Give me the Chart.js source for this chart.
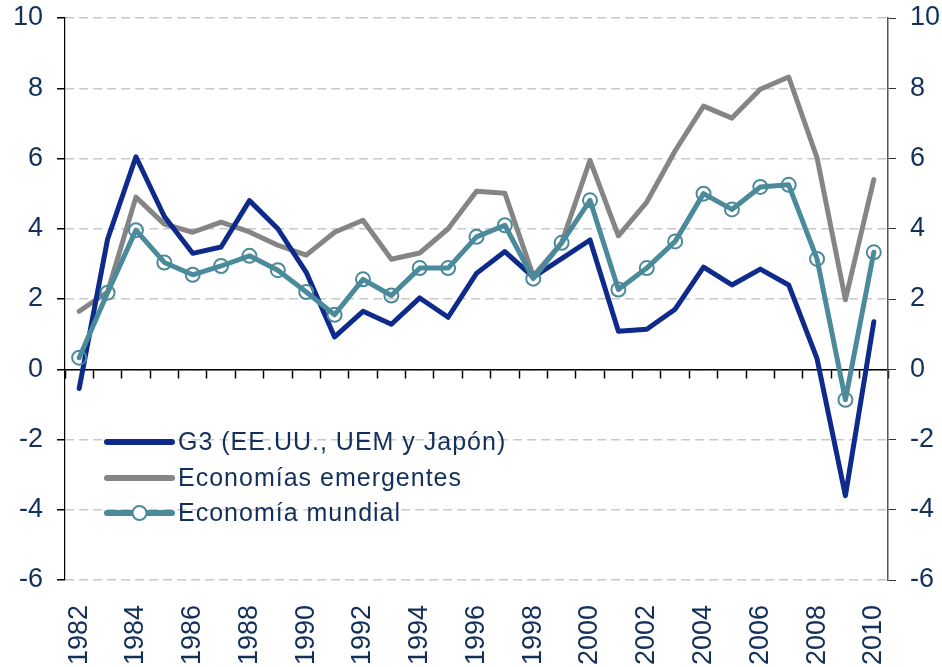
<!DOCTYPE html>
<html>
<head>
<meta charset="utf-8">
<script src="https://cdn.jsdelivr.net/npm/chart.js@4.4.1/dist/chart.umd.min.js"></script>
<style>
    html, body { margin: 0; padding: 0; background: #ffffff; }
    #wrap { width: 942px; height: 667px; position: relative; }
</style>
</head>
<body>
<div id="wrap"><canvas id="chart" width="942" height="667"></canvas></div>
<script>
// Years on the x axis
const years = ['1982', '1983', '1984', '1985', '1986', '1987', '1988', '1989', '1990',
    '1991', '1992', '1993', '1994', '1995', '1996', '1997', '1998', '1999', '2000',
    '2001', '2002', '2003', '2004', '2005', '2006', '2007', '2008', '2009', '2010'];

// G3 (EE.UU., UEM y Japón)
const g3 = [-0.55, 3.7, 6.05, 4.35, 3.3, 3.48, 4.8, 4.0, 2.76,
    0.92, 1.65, 1.28, 2.03, 1.48, 2.73, 3.35, 2.62, 3.15, 3.68,
    1.08, 1.14, 1.71, 2.91, 2.4, 2.85, 2.4, 0.3, -3.6, 1.35];

// Economías emergentes
const emergentes = [1.65, 2.2, 4.9, 4.13, 3.9, 4.19, 3.91, 3.53, 3.25,
    3.9, 4.24, 3.13, 3.31, 4.0, 5.07, 5.01, 2.65, 3.6, 5.95,
    3.8, 4.76, 6.22, 7.49, 7.15, 7.97, 8.32, 6.02, 1.98, 5.4];

// Economía mundial
const mundial = [0.33, 2.18, 3.96, 3.04, 2.69, 2.94, 3.23, 2.82, 2.2,
    1.55, 2.56, 2.1, 2.88, 2.88, 3.77, 4.1, 2.58, 3.6, 4.81,
    2.27, 2.88, 3.64, 5.0, 4.55, 5.19, 5.25, 3.14, -0.87, 3.33];

const yTicks = { min: -6, max: 10, step: 2 };

const colors = {
    g3: '#0e2a8a',
    emergentes: '#858585',
    mundial: '#4a8a9b',
    text: '#12305a',
    grid: '#c8c8c8'
};

const fontFamily = '"Liberation Sans", Arial, sans-serif';

// Legend drawn inside the plot area, lower left
const innerLegend = {
    id: 'innerLegend',
    afterDraw(chart) {
        const ctx = chart.ctx;
        const x0 = 107, x1 = 172, textX = 178;
        const rows = [442, 478, 513];
        ctx.save();
        ctx.font = '25px ' + fontFamily;
        ctx.letterSpacing = '1px';
        ctx.textBaseline = 'middle';
        chart.data.datasets.slice().sort((a, b) => a.legendIndex - b.legendIndex).forEach((ds, i) => {
            const y = rows[i];
            ctx.strokeStyle = ds.borderColor;
            ctx.lineWidth = 6;
            ctx.lineCap = 'round';
            ctx.beginPath();
            ctx.moveTo(x0, y);
            ctx.lineTo(x1, y);
            ctx.stroke();
            if (ds.pointRadius > 0) {
                ctx.lineWidth = 2;
                ctx.fillStyle = '#ffffff';
                ctx.beginPath();
                ctx.arc((x0 + x1) / 2, y, ds.pointRadius, 0, Math.PI * 2);
                ctx.fill();
                ctx.stroke();
            }
            ctx.fillStyle = colors.text;
            ctx.fillText(ds.label, textX, y + 1);
        });
        ctx.restore();
    }
};

const tickFont = { family: fontFamily, size: 27 };

// keep the tick padding from pushing the plot down
function fitY(width) {
    return (scale) => {
        scale.width = width;
        scale.paddingTop = 10;
        scale.paddingBottom = 10;
    };
}

new Chart(document.getElementById('chart'), {
    type: 'line',
    data: {
        labels: years,
        datasets: [
            {
                label: 'Economía mundial',
                data: mundial,
                legendIndex: 2,
                order: 0,
                borderColor: colors.mundial,
                borderWidth: 5,
                pointRadius: 7,
                pointBorderWidth: 2,
                pointBorderColor: colors.mundial,
                pointBackgroundColor: 'rgba(255,255,255,0)',
                borderJoinStyle: 'round',
                borderCapStyle: 'round',
                tension: 0
            },
            {
                label: 'G3 (EE.UU., UEM y Japón)',
                data: g3,
                legendIndex: 0,
                order: 1,
                borderColor: colors.g3,
                borderWidth: 5,
                pointRadius: 0,
                borderJoinStyle: 'round',
                borderCapStyle: 'round',
                tension: 0
            },
            {
                label: 'Economías emergentes',
                data: emergentes,
                legendIndex: 1,
                order: 2,
                borderColor: colors.emergentes,
                borderWidth: 5,
                pointRadius: 0,
                borderJoinStyle: 'round',
                borderCapStyle: 'round',
                tension: 0
            }
        ]
    },
    options: {
        responsive: false,
        animation: false,
        layout: { padding: { top: 18, left: 0, right: 0, bottom: 0 } },
        plugins: {
            legend: { display: false },
            tooltip: { enabled: false }
        },
        scales: {
            x: {
                type: 'category',
                offset: true,
                position: 'bottom',
                grid: { display: false },
                border: { display: false },
                ticks: {
                    font: tickFont,
                    color: colors.text,
                    minRotation: 90,
                    maxRotation: 90,
                    autoSkip: false,
                    padding: 17,
                    callback: function (value, index) {
                        return index % 2 === 0 ? this.getLabelForValue(value) : '';
                    }
                },
                afterFit: (scale) => { scale.height = 87; }
            },
            xZero: {
                type: 'category',
                offset: true,
                position: { y: 0 },
                grid: {
                    drawOnChartArea: false,
                    drawTicks: true,
                    offset: true,
                    tickLength: 8,
                    tickColor: '#000000',
                    tickWidth: 1.5
                },
                border: { color: '#000000', width: 1.5 },
                ticks: { display: false }
            },
            y: {
                position: 'left',
                min: yTicks.min,
                max: yTicks.max,
                grid: {
                    color: colors.grid,
                    lineWidth: 1.5,
                    tickLength: 8,
                    tickColor: '#000000',
                    tickBorderDash: []
                },
                border: { color: '#000000', width: 1.2, dash: [9, 5] },
                ticks: {
                    stepSize: yTicks.step,
                    font: tickFont,
                    color: colors.text,
                    padding: 14
                },
                afterFit: fitY(65)
            },
            yRight: {
                position: 'right',
                min: yTicks.min,
                max: yTicks.max,
                grid: {
                    drawOnChartArea: false,
                    tickLength: 8,
                    tickColor: '#333333'
                },
                border: { color: '#555555', width: 1.5 },
                ticks: {
                    stepSize: yTicks.step,
                    font: tickFont,
                    color: colors.text,
                    padding: 14
                },
                afterFit: fitY(54)
            }
        }
    },
    plugins: [innerLegend]
});
</script>
</body>
</html>
